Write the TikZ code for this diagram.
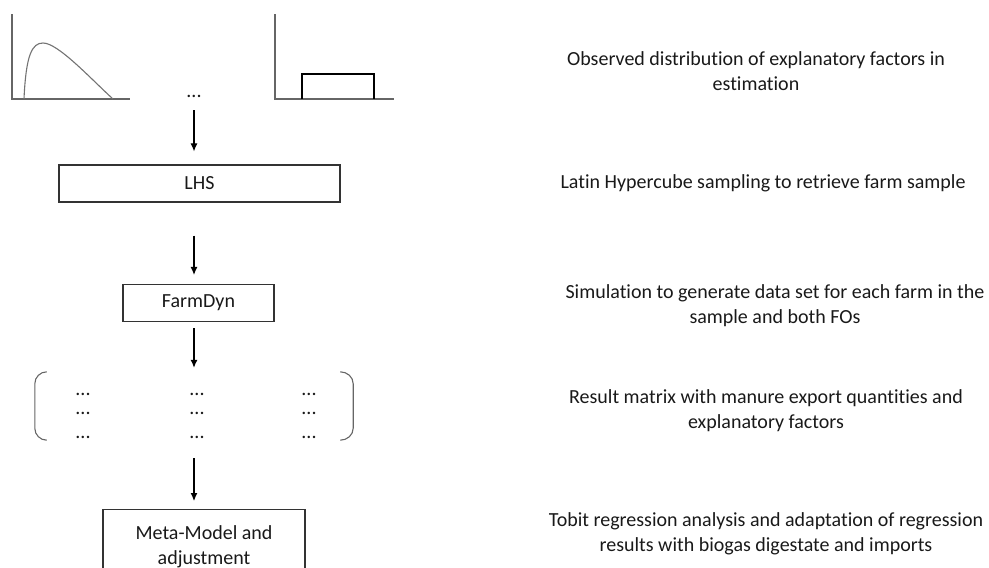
\documentclass[tikz,border=0pt]{standalone}
\usepackage{fontspec}
\setmainfont{Carlito}[Ligatures=NoCommon]
\usetikzlibrary{arrows.meta}

\begin{document}
\begin{tikzpicture}[x=1pt,y=-1pt,font=\fontsize{20}{25}\selectfont,
  box/.style={draw=black!80,line width=1.2pt,minimum height=37pt,inner sep=0pt,text=black!90},
  note/.style={align=center,text=black!90},
  flow/.style={-{Latex[length=8pt,width=7pt]},line width=1.1pt},
  axis/.style={draw=black!60,line width=1.1pt},
  cell/.style={inner sep=0pt,text=black!90}]
\useasboundingbox (0,0) rectangle (989,568);
% observed distributions
\draw[axis] (12,14) -- (12,99) -- (130,99);
\draw[black!55,line width=1.1pt] (24,99) .. controls (26,55) and (32,43) .. (43,43) .. controls (58,43) and (90,78) .. (113,99);
\draw[axis] (275,14) -- (275,99) -- (394,99);
\draw[black,line width=1.1pt] (302,99) |- (374,74) -- (374,99);
\node[cell] (dots) at (194,96) {...};
% flow
\node[box,minimum width=281pt] (lhs) at (199.5,183.5) {LHS};
\node[box,minimum width=151pt] (farm) at (198.5,303) {FarmDyn};
\node[minimum width=318pt,minimum height=68pt] (res) at (194,406) {};
\node[box,minimum width=202pt,minimum height=75pt,anchor=north,align=center,inner ysep=6pt,anchor=north] (meta) at (204,509) {Meta-Model and\\adjustment};
% result matrix
\draw[black!60,line width=1.1pt] ([xshift=12pt]res.north west) to[out=180,in=90] ([yshift=-12pt]res.north west) -- ([yshift=12pt]res.south west) to[out=-90,in=180] ([xshift=12pt]res.south west);
\draw[black!60,line width=1.1pt] ([xshift=-13pt]res.north east) to[out=0,in=90] ([yshift=-12pt]res.north east) -- ([yshift=12pt]res.south east) to[out=-90,in=0] ([xshift=-13pt]res.south east);
\foreach \cx in {83,197,309}
  \foreach \cy in {394,413,437}
    \node[cell] at (\cx,\cy) {...};
\draw[flow,shorten <=14pt,shorten >=13pt] (dots.center) -- (dots.center |- lhs.north);
\draw[flow,shorten <=33pt,shorten >=9pt] (lhs.south -| dots) -- (farm.north -| dots);
\draw[flow,shorten <=6pt,shorten >=4pt] (farm.south -| dots) -- (res.north -| dots);
\draw[flow,shorten <=18pt,shorten >=8pt] (res.south -| dots) -- (meta.north -| dots);
% explanations
\node[note] (n1) at (756,71) {Observed distribution of explanatory factors in\\estimation};
\node[note] (n2) at (763,183) {Latin Hypercube sampling to retrieve farm sample};
\node[note] (n3) at (775,305.5) {Simulation to generate data set for each farm in the\\sample and both FOs};
\node[note] (n4) at (766,410.5) {Result matrix with manure export quantities and\\explanatory factors};
\node[note] (n5) at (766,533.5) {Tobit regression analysis and adaptation of regression\\results with biogas digestate and imports};
\end{tikzpicture}
\end{document}
